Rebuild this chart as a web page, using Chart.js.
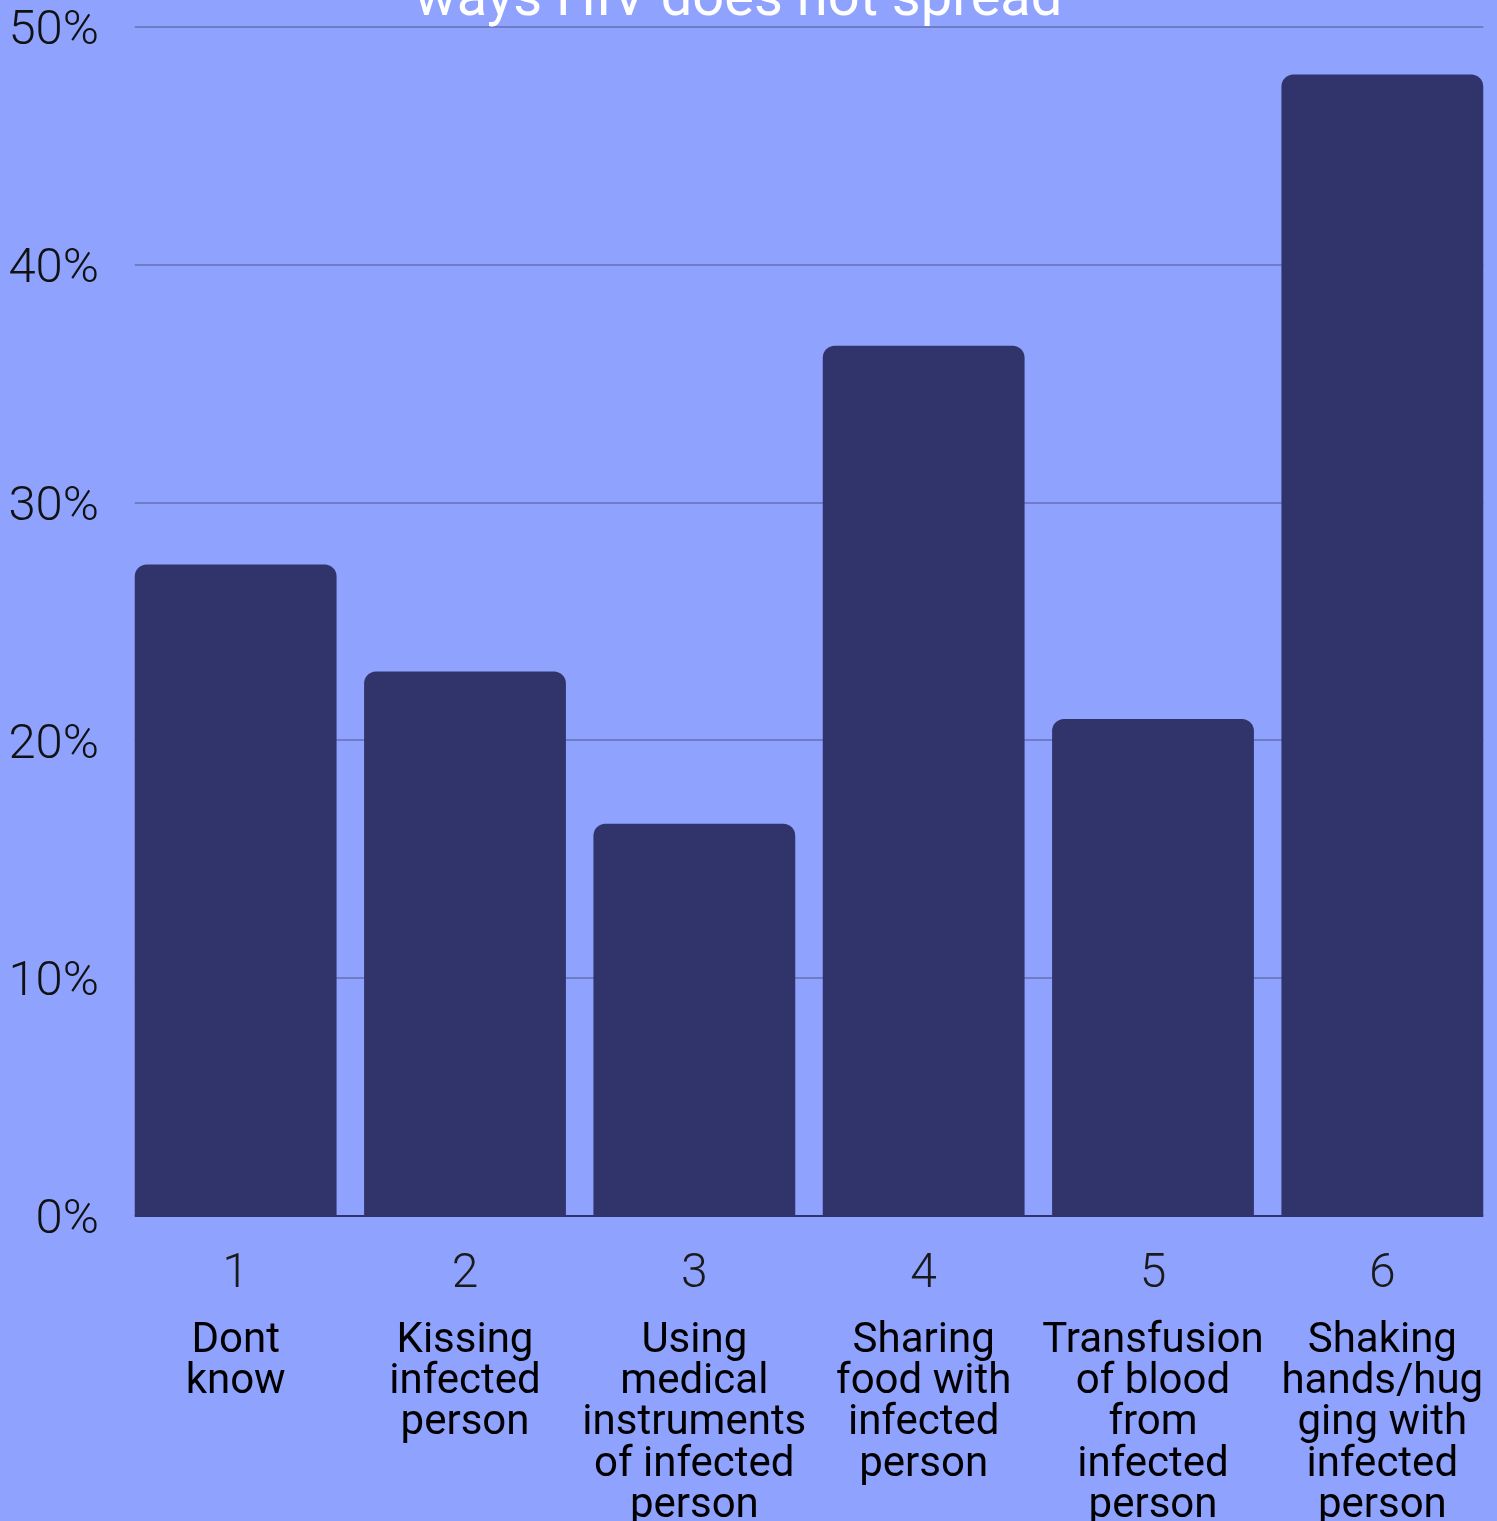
<!DOCTYPE html>
<html>
<head>
<meta charset="utf-8">
<script src="https://cdn.jsdelivr.net/npm/chart.js@4/dist/chart.umd.min.js"></script>
<style>
  html, body { margin: 0; padding: 0; background: #8EA2FE; overflow: hidden; }
  #wrap { width: 1497px; height: 1521px; }
</style>
</head>
<body>
<div id="wrap"><canvas id="hivChart"></canvas></div>
<script>
const title = 'ways HIV does not spread';
const numbers = ['1', '2', '3', '4', '5', '6'];
const answers = [
    ['Dont', 'know'],
    ['Kissing', 'infected', 'person'],
    ['Using', 'medical', 'instruments', 'of infected', 'person'],
    ['Sharing', 'food with', 'infected', 'person'],
    ['Transfusion', 'of blood', 'from', 'infected', 'person'],
    ['Shaking', 'hands/hug', 'ging with', 'infected', 'person']
];
const percents = [27.4, 22.9, 16.5, 36.6, 20.9, 48.0];
const yTicks = [0, 10, 20, 30, 40, 50];

const barColor = '#30346A';
const gridColor = '#6F7DC6';

// grid lines only span the bars, and the dark base line under them
const barGrid = {
    id: 'barGrid',
    beforeDatasetsDraw(chart) {
        const meta = chart.getDatasetMeta(0);
        const first = meta.data[0], last = meta.data[meta.data.length - 1];
        const x0 = first.x - first.width / 2, x1 = last.x + last.width / 2;
        const y = chart.scales.y;
        const c = chart.ctx;
        c.save();
        c.strokeStyle = gridColor;
        c.lineWidth = 2;
        yTicks.forEach(v => {
            if (v === 0) return;
            const py = Math.round(y.getPixelForValue(v));
            c.beginPath();
            c.moveTo(x0, py);
            c.lineTo(x1, py);
            c.stroke();
        });
        c.restore();
    },
    afterDatasetsDraw(chart) {
        const meta = chart.getDatasetMeta(0);
        const first = meta.data[0], last = meta.data[meta.data.length - 1];
        const py = chart.scales.y.getPixelForValue(0);
        const c = chart.ctx;
        c.save();
        c.strokeStyle = barColor;
        c.lineWidth = 2;
        c.beginPath();
        c.moveTo(first.x - first.width / 2, py);
        c.lineTo(last.x + last.width / 2, py);
        c.stroke();
        c.restore();
    },
    afterDraw(chart) {
        const c = chart.ctx;
        c.save();
        c.fillStyle = '#ffffff';
        c.font = '56px Roboto';
        c.textAlign = 'center';
        c.textBaseline = 'alphabetic';
        c.fillText(title, chart.width / 2 - 10, 15);
        c.restore();
    }
};

const ctx = document.getElementById('hivChart').getContext('2d');

const hivChart = new Chart(ctx, {
    type: 'bar',
    data: {
        labels: numbers,
        datasets: [{
            data: percents,
            backgroundColor: barColor,
            borderRadius: 12,
            borderSkipped: 'bottom',
            barPercentage: 0.88,
            categoryPercentage: 1.0,
            xAxisID: 'x'
        }]
    },
    options: {
        responsive: true,
        maintainAspectRatio: false,
        animation: false,
        layout: { padding: { top: 27, left: 0, right: 0, bottom: 0 } },
        scales: {
            x: {
                position: 'bottom',
                weight: 0,
                grid: { display: false },
                border: { display: false },
                ticks: {
                    color: '#1a1a1a',
                    font: { family: 'Roboto', size: 48, weight: 300 },
                    padding: 22,
                    maxRotation: 0,
                    autoSkip: false
                },
                afterFit(scale) { scale.height = 90; }
            },
            x2: {
                type: 'category',
                position: 'bottom',
                weight: 1,
                labels: answers,
                grid: { display: false },
                border: { display: false },
                ticks: {
                    color: '#000000',
                    font: { family: 'Roboto', size: 42, weight: 400, lineHeight: 0.98 },
                    padding: 7,
                    maxRotation: 0,
                    autoSkip: false
                },
                afterFit(scale) { scale.height = 215; }
            },
            y: {
                min: 0,
                max: 50,
                grid: { display: false },
                border: { display: false },
                afterBuildTicks(scale) {
                    scale.ticks = yTicks.map(v => ({ value: v }));
                },
                ticks: {
                    color: '#111111',
                    font: { family: 'Roboto', size: 49, weight: 300 },
                    padding: 14,
                    labelOffset: 5,
                    callback: v => v + '%'
                },
                afterFit(scale) {
                    scale.width = 121;
                    scale.paddingTop = 0;
                    scale.paddingBottom = 0;
                }
            }
        },
        plugins: {
            legend: { display: false },
            tooltip: { enabled: false },
            title: { display: false }
        }
    },
    plugins: [barGrid]
});
</script>
</body>
</html>
